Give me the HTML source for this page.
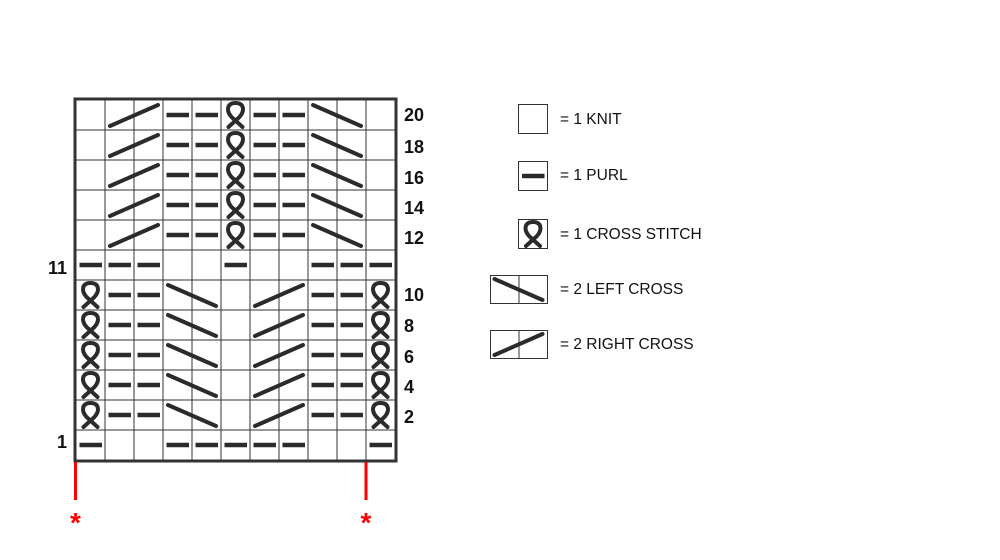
<!DOCTYPE html>
<html><head><meta charset="utf-8"><style>
html,body{margin:0;padding:0;background:#fff;}
svg{display:block;}
text{font-family:"Liberation Sans",sans-serif;fill:#111;}
</style></head><body>
<svg id="s" width="1000" height="560" viewBox="0 0 1000 560">
<g id="g"></g>
<g font-size="18" font-weight="bold">
<text x="404" y="121">20</text>
<text x="404" y="153">18</text>
<text x="404" y="184">16</text>
<text x="404" y="214">14</text>
<text x="404" y="244">12</text>
<text x="404" y="301">10</text>
<text x="404" y="332">8</text>
<text x="404" y="363">6</text>
<text x="404" y="393">4</text>
<text x="404" y="423">2</text>
<text x="67" y="274" text-anchor="end">11</text>
<text x="67" y="448" text-anchor="end">1</text>
</g>
<g font-size="15.5">
<text x="560" y="124">= 1 KNIT</text>
<text x="560" y="180">= 1 PURL</text>
<text x="560" y="239">= 1 CROSS STITCH</text>
<text x="560" y="294">= 2 LEFT CROSS</text>
<text x="560" y="349">= 2 RIGHT CROSS</text>
</g>
<line x1="75.5" y1="462" x2="75.5" y2="500" stroke="#f00" stroke-width="3"/>
<line x1="366" y1="462" x2="366" y2="500" stroke="#f00" stroke-width="3"/>
<text x="75.5" y="532" font-size="28" font-weight="bold" text-anchor="middle" style="fill:#f00">*</text>
<text x="366" y="532" font-size="28" font-weight="bold" text-anchor="middle" style="fill:#f00">*</text>
</svg>
<script>
var g=document.getElementById('g'),h='';
var X0=76,Y0=100,W=29,H=30,C='#2b2b2b';
function purl(x,y){h+='<line x1="'+(x+3.5)+'" y1="'+(y+15)+'" x2="'+(x+26)+'" y2="'+(y+15)+'" stroke="'+C+'" stroke-width="4.5"/>';}
function cs(x,y){var c=x+14.5;h+='<path d="M'+(c-7)+' '+(y+27)+' L'+(c+4)+' '+(y+17)+' C'+(c+10)+' '+(y+10)+' '+(c+8)+' '+(y+3)+' '+c+' '+(y+3)+' C'+(c-8)+' '+(y+3)+' '+(c-10)+' '+(y+10)+' '+(c-4)+' '+(y+17)+' L'+(c+7)+' '+(y+27)+'" fill="none" stroke="'+C+'" stroke-width="4" stroke-linecap="round"/>';}
function rc(x,y){h+='<line x1="'+(x+5)+'" y1="'+(y+26)+'" x2="'+(x+53)+'" y2="'+(y+5)+'" stroke="'+C+'" stroke-width="4" stroke-linecap="round"/>';}
function lc(x,y){h+='<line x1="'+(x+5)+'" y1="'+(y+5)+'" x2="'+(x+53)+'" y2="'+(y+26)+'" stroke="'+C+'" stroke-width="4" stroke-linecap="round"/>';}
for(var c=1;c<11;c++)h+='<line x1="'+(X0+W*c)+'" y1="'+Y0+'" x2="'+(X0+W*c)+'" y2="'+(Y0+360)+'" stroke="#333" stroke-width="1"/>';
for(var r=1;r<12;r++)h+='<line x1="'+X0+'" y1="'+(Y0+H*r)+'" x2="'+(X0+319)+'" y2="'+(Y0+H*r)+'" stroke="#333" stroke-width="1"/>';
function cx(c){return X0+W*c;}function ry(r){return Y0+H*r;}
for(var r=0;r<5;r++){var y=ry(r);rc(cx(1),y);purl(cx(3),y);purl(cx(4),y);cs(cx(5),y);purl(cx(6),y);purl(cx(7),y);lc(cx(8),y);}
[0,1,2,5,8,9,10].forEach(function(c){purl(cx(c),ry(5));});
for(var r=6;r<11;r++){var y=ry(r);cs(cx(0),y);purl(cx(1),y);purl(cx(2),y);lc(cx(3),y);rc(cx(6),y);purl(cx(8),y);purl(cx(9),y);cs(cx(10),y);}
[0,3,4,5,6,7,10].forEach(function(c){purl(cx(c),ry(11));});
h+='<rect x="'+(X0-1)+'" y="'+(Y0-1)+'" width="321" height="362" fill="none" stroke="#333" stroke-width="3"/>';
h+='<rect x="518.5" y="104.5" width="29" height="29" fill="none" stroke="#333"/>';
h+='<rect x="518.5" y="161.5" width="29" height="29" fill="none" stroke="#333"/>';purl(518.5,161);
h+='<rect x="518.5" y="219.5" width="29" height="29" fill="none" stroke="#333"/>';cs(518.5,219);
h+='<rect x="490.5" y="275.5" width="57" height="28" fill="none" stroke="#333"/><line x1="519" y1="275.5" x2="519" y2="303.5" stroke="#333"/>';lc(489.5,274);
h+='<rect x="490.5" y="330.5" width="57" height="28" fill="none" stroke="#333"/><line x1="519" y1="330.5" x2="519" y2="358.5" stroke="#333"/>';rc(489.5,329);
g.innerHTML=h;
</script>
</body></html>
